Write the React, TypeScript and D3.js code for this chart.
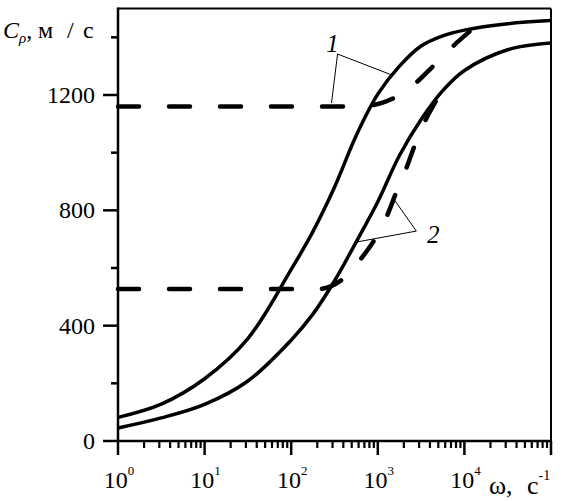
import React, { useEffect } from "react";
import * as d3 from "d3";

// --- Data ---
const OMEGA = [1, 3.16, 10, 31.6, 100, 178, 316, 562, 1000, 1778, 3162, 5623, 10000, 31623, 100000];
const CURVE1 = [82, 128, 216, 355, 595, 726, 880, 1059, 1203, 1300, 1370, 1405, 1425, 1447, 1458];
const CURVE2 = [45, 80, 127, 208, 350, 440, 555, 690, 830, 990, 1115, 1215, 1285, 1357, 1380];

const DASH1_OMEGA = [1, 400, 850, 1550, 2750, 4250, 7250, 12000];
const DASH1 = [1160, 1160, 1165, 1190, 1242, 1297, 1367, 1425];
const DASH2_OMEGA = [1, 200, 380, 650, 910, 1290, 1620, 2140, 2630, 3470, 4790];
const DASH2 = [527, 527, 558, 635, 697, 784, 860, 947, 1020, 1106, 1183];

const X_MAJOR = [1, 10, 100, 1000, 10000, 100000];
const X_LABELS = ["0", "1", "2", "3", "4"];
const Y_MAJOR = [0, 400, 800, 1200];
const Y_MINOR = [200, 600, 1000, 1400];

const W = 573;
const H = 501;
const FONT = "Liberation Serif, DejaVu Serif, serif";

export default function App() {
  useEffect(() => {
    document.body.style.margin = "0";
  }, []);

  const x = d3.scaleLog().domain([1, 100000]).range([118, 551]);
  const y = d3.scaleLinear().domain([0, 1500]).range([441, 8.5]);

  const smooth = d3
    .line<[number, number]>()
    .x((d) => x(d[0]))
    .y((d) => y(d[1]))
    .curve(d3.curveCatmullRom.alpha(0.5));
  const mono = d3
    .line<[number, number]>()
    .x((d) => x(d[0]))
    .y((d) => y(d[1]))
    .curve(d3.curveMonotoneX);

  const zip = (a: number[], b: number[]) => a.map((v, i) => [v, b[i]] as [number, number]);

  // minor ticks 2..9 per decade
  const xMinor: number[] = [];
  for (let e = 0; e < 5; e++) {
    for (let k = 2; k <= 9; k++) xMinor.push(k * Math.pow(10, e));
  }

  const x0 = x(1);
  const y0 = y(0);
  const xr = x(100000);
  const yt = y(1500);

  return (
    <svg width={W} height={H} style={{ display: "block", background: "#fff", fontFamily: FONT }}>
      {/* frame */}
      <line x1={x0} y1={yt} x2={xr} y2={yt} stroke="#000" strokeWidth={2} />
      <line x1={xr} y1={yt} x2={xr} y2={y0} stroke="#000" strokeWidth={2} />
      <line x1={x0} y1={yt - 1} x2={x0} y2={y0} stroke="#000" strokeWidth={2.5} />
      <line x1={x0} y1={y0} x2={xr + 1} y2={y0} stroke="#000" strokeWidth={2.5} />

      {/* y ticks */}
      {Y_MAJOR.map((v) => (
        <g key={"ym" + v}>
          <line x1={x0 - 15} x2={x0} y1={y(v)} y2={y(v)} stroke="#000" strokeWidth={2.5} />
          <text x={95} y={y(v) + 8} textAnchor="end" fontSize={24}>
            {v}
          </text>
        </g>
      ))}
      {Y_MINOR.map((v) => (
        <line key={"yn" + v} x1={x0 - 7} x2={x0} y1={y(v)} y2={y(v)} stroke="#000" strokeWidth={2.5} />
      ))}

      {/* x ticks */}
      {X_MAJOR.map((v) => (
        <line key={"xm" + v} x1={x(v)} x2={x(v)} y1={y0} y2={y0 + 14} stroke="#000" strokeWidth={2.5} />
      ))}
      {xMinor.map((v) => (
        <line key={"xn" + v} x1={x(v)} x2={x(v)} y1={y0} y2={y0 + 7} stroke="#000" strokeWidth={2.2} />
      ))}
      {X_LABELS.map((p, i) => (
        <text key={"xl" + p} x={x(X_MAJOR[i]) + 1} y={488} textAnchor="middle" fontSize={24}>
          10
          <tspan fontSize={13} dy={-13}>
            {p}
          </tspan>
        </text>
      ))}
      <text y={494} fontSize={26}>
        <tspan x={489}>ω,</tspan>
        <tspan x={527}>с</tspan>
        <tspan fontSize={14} dy={-14}>
          -1
        </tspan>
      </text>

      {/* y label */}
      <text y={38} fontSize={24}>
        <tspan x={3} fontStyle="italic">C</tspan>
        <tspan fontStyle="italic" fontSize={15} dy={5}>
          ρ
        </tspan>
        <tspan dy={-5}>,</tspan>
        <tspan x={38}>м</tspan>
        <tspan x={67}>/</tspan>
        <tspan x={83}>с</tspan>
      </text>

      {/* curves */}
      <path d={smooth(zip(OMEGA, CURVE1)) || ""} fill="none" stroke="#000" strokeWidth={3.5} />
      <path d={smooth(zip(OMEGA, CURVE2)) || ""} fill="none" stroke="#000" strokeWidth={3.5} />
      <path
        d={mono(zip(DASH1_OMEGA, DASH1)) || ""}
        fill="none"
        stroke="#000"
        strokeWidth={4.5}
        strokeDasharray="21 30"
        strokeLinecap="round"
      />
      <path
        d={mono(zip(DASH2_OMEGA, DASH2)) || ""}
        fill="none"
        stroke="#000"
        strokeWidth={4.5}
        strokeDasharray="21 30"
        strokeLinecap="round"
      />

      {/* annotations */}
      <polyline
        points={`${x(292)},${y(1172)} ${x(343)},${y(1342)} ${x(1435)},${y(1270)}`}
        fill="none"
        stroke="#000"
        strokeWidth={1}
      />
      <text x={x(300)} y={52} textAnchor="middle" fontSize={25} fontStyle="italic">
        1
      </text>
      <polyline
        points={`${x(1556)},${y(836)} ${x(2786)},${y(728)} ${x(566)},${y(690)}`}
        fill="none"
        stroke="#000"
        strokeWidth={1}
      />
      <text x={427} y={243} fontSize={25} fontStyle="italic">
        2
      </text>
    </svg>
  );
}
